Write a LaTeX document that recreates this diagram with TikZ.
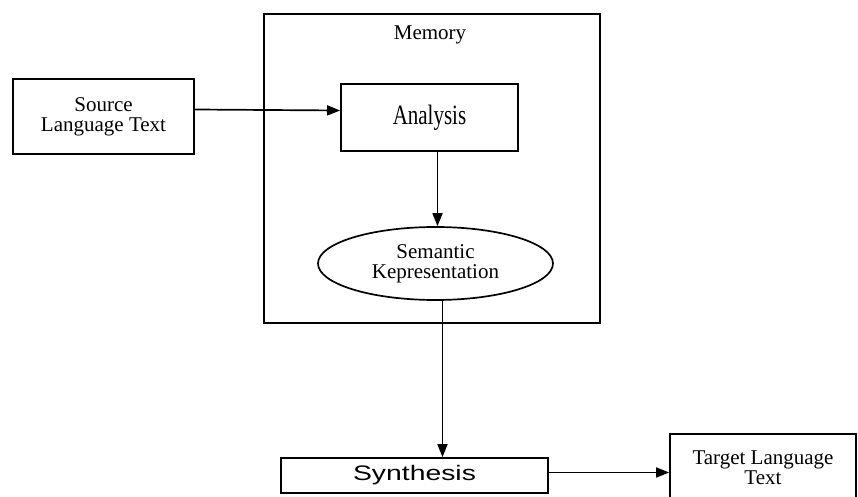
\documentclass[tikz,border=0pt]{standalone}
\usepackage{fontspec}
\setmainfont{Liberation Serif}
\newfontfamily\anafont[FakeStretch=0.75]{Liberation Serif}
\newfontfamily\synfont[FakeStretch=1.35]{Liberation Sans}
\usetikzlibrary{shapes.geometric,arrows.meta}
\begin{document}
\begin{tikzpicture}
[
 x=0.5pt, y=-0.5pt,
 inner sep=0.5mm,
 BOX/.style={rectangle, draw=black, fill=white, line width=0.85pt, align=center, font=\fontsize{10.5}{10}\selectfont},
 OVAL/.style={ellipse, draw=black, fill=white, line width=0.85pt, align=center, minimum width=117.5pt, minimum height=36.5pt, font=\fontsize{10.5}{10}\selectfont},
 ARR/.style={line width=0.85pt, -{Triangle[length=6.5pt,width=5pt]}},
 ],
%
\useasboundingbox (0,0) rectangle (858,497);
\clip (0,0) rectangle (858,497);
%
\node [BOX, minimum width=168pt, minimum height=154.5pt]  (MEM)  at (432,168.5) {};
\node [font=\fontsize{10.5}{10}\selectfont]  (MEML)  at (430,35) {Memory};
%
\node [BOX, minimum width=90.5pt, minimum height=37.5pt]  (SRC)  at (103.5,116.5) {Source\\Language Text};
\node [BOX, minimum width=88.5pt, minimum height=33.5pt, font=\anafont\fontsize{14}{16}\selectfont]  (ANA)  at (429.5,117.5) {Analysis};
\node [OVAL]  (SEM)  at (435.5,263.5) {Semantic\\Kepresentation};
\node [BOX, minimum width=133.5pt, minimum height=17.5pt, font=\synfont\fontsize{10.5}{12.5}\selectfont]  (SYN)  at (414.5,475.5) {Synthesis};
\node [BOX, minimum width=93pt, minimum height=34pt, font=\fontsize{10.5}{7.5}\selectfont]  (TGT)  at (763,468) {Target Language\\Text};
%
\draw [ARR]  ([yshift=3.5pt]SRC.east)  -- ([yshift=3.5pt]ANA.west) ;
\draw [ARR]  ([xshift=4pt]ANA.south)  -- ([xshift=4pt]ANA.south |- SEM.north) ;
\draw [ARR]  ([xshift=3.5pt]SEM.south)  -- ([xshift=3.5pt]SEM.south |- SYN.north) ;
\draw [ARR]  ([yshift=1.5pt]SYN.east)  -- ([yshift=1.5pt]SYN.east -| TGT.west) ;
\end{tikzpicture}
\end{document}
